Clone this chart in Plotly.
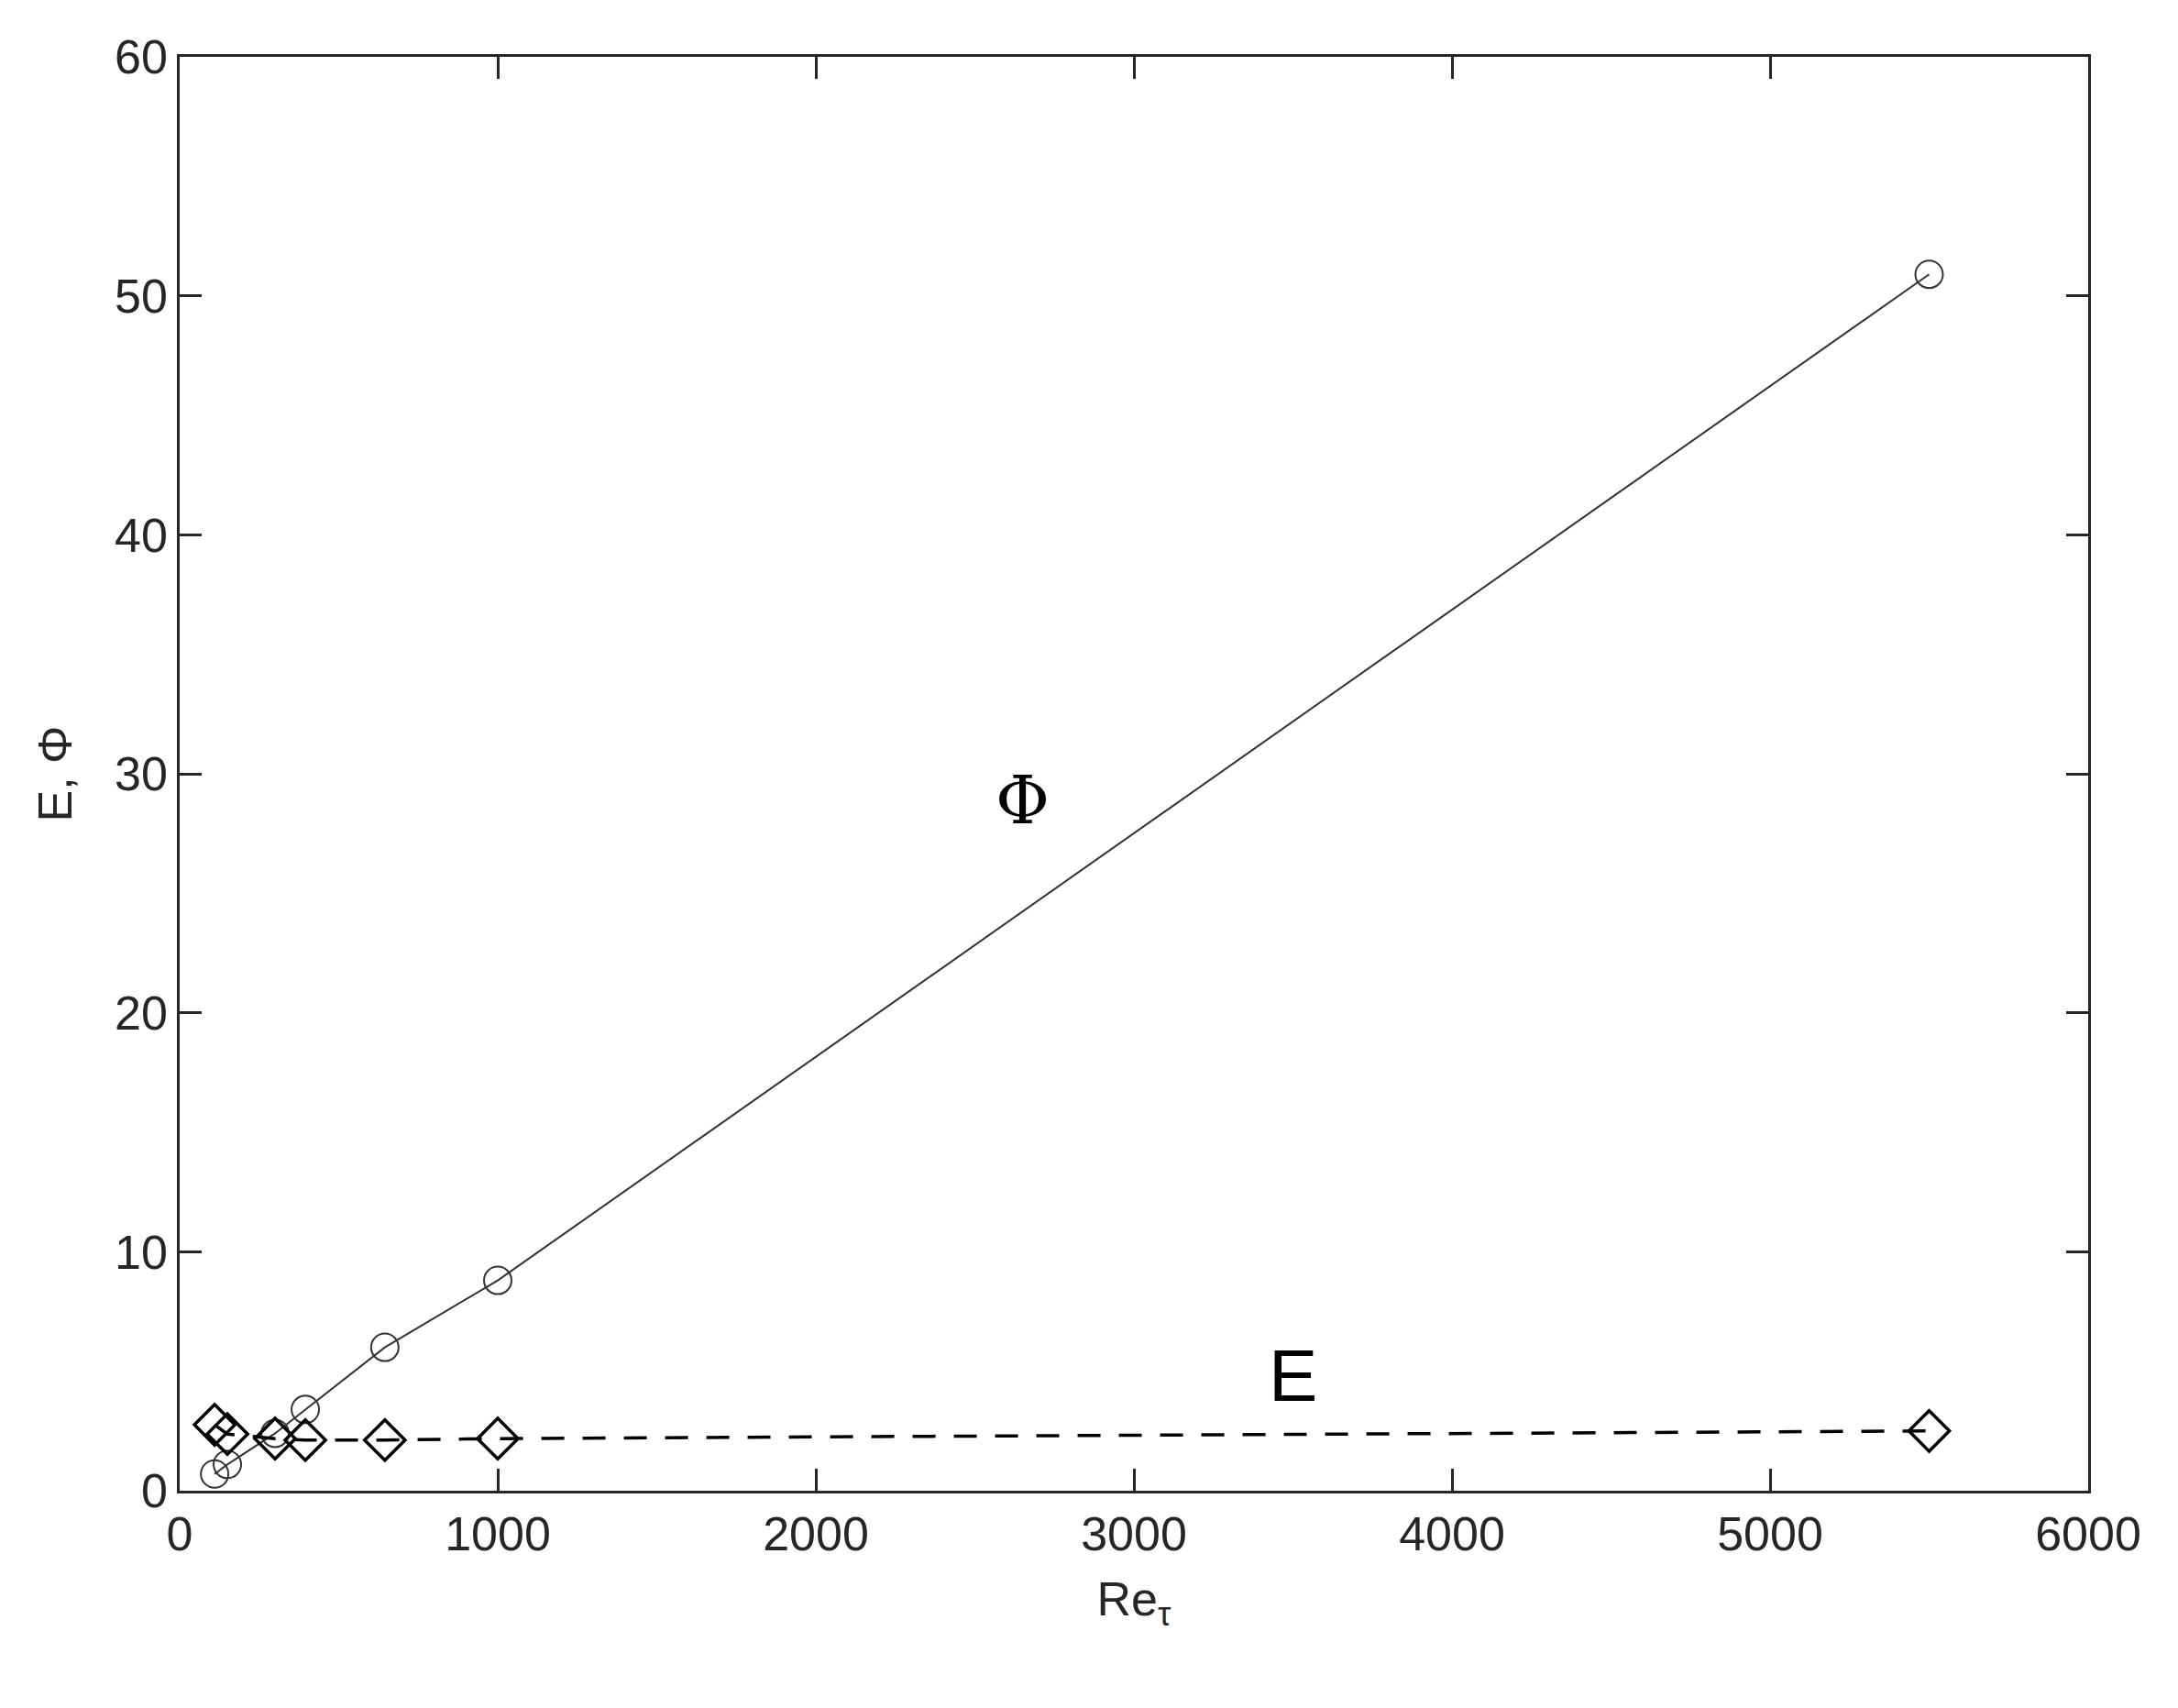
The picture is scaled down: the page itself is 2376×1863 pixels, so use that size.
import plotly.graph_objects as go

re_tau = [110, 150, 300, 395, 645, 1000, 5500]
phi = [0.7, 1.1, 2.4, 3.4, 6.0, 8.8, 50.9]
e_vals = [2.76, 2.37, 2.18, 2.12, 2.12, 2.18, 2.5]

fig = go.Figure()
fig.add_trace(go.Scatter(x=re_tau, y=phi, mode="lines+markers",
    line=dict(color="#333333", width=2),
    marker=dict(symbol="circle-open", size=30, color="#333333", line=dict(width=2))))
fig.add_trace(go.Scatter(x=re_tau, y=e_vals, mode="lines+markers",
    line=dict(color="black", width=3.5, dash="25px,20px"),
    marker=dict(symbol="diamond-open", size=34, color="black", line=dict(width=3.5))))

fig.add_annotation(x=2650, y=28.9, text="Φ", showarrow=False, font=dict(size=72, color="black", family="DejaVu Serif"))
fig.add_annotation(x=3500, y=4.8, text="E", showarrow=False, font=dict(size=80, color="black", family="Liberation Sans"))

axis = dict(showgrid=False, zeroline=False, showline=True, mirror="ticks", linecolor="#262626",
            linewidth=2.5, ticks="inside", ticklen=24, tickwidth=2.5, tickcolor="#262626",
            tickfont=dict(size=52, color="#262626", family="Liberation Sans"))
fig.update_xaxes(range=[0, 6000], dtick=1000, title=dict(text="Re<sub>τ</sub>", font=dict(size=52, color="#262626"), standoff=25), **axis)
fig.update_yaxes(range=[0, 60], dtick=10, title=dict(text="E, Φ", font=dict(size=52, color="#262626"), standoff=30), **axis)
fig.update_layout(width=2376, height=1863, plot_bgcolor="white", paper_bgcolor="white",
                  showlegend=False, margin=dict(l=188, r=106, t=54, b=245),
                  font=dict(family="Liberation Sans"))
fig.write_html("out.html")
